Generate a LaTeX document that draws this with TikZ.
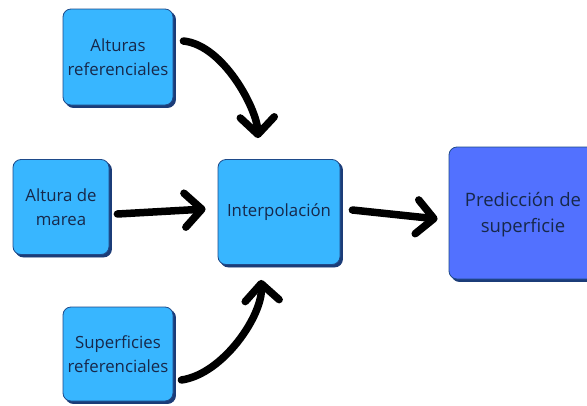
\documentclass[tikz,border=0pt]{standalone}
\usepackage{fontspec}
\setmainfont{Open Sans}
\usetikzlibrary{arrows.meta,calc}
\definecolor{boxblue}{HTML}{38B6FF}
\definecolor{predblue}{HTML}{5271FF}
\definecolor{edgeblue}{HTML}{1E4A8A}
\definecolor{shadeblue}{HTML}{1B3C78}
\definecolor{txtblue}{HTML}{17284A}
\begin{document}
\begin{tikzpicture}[x=1pt,y=-1pt,
  boxstyle/.style={draw=edgeblue, line width=0.8pt, fill=boxblue, rounded corners=8pt,
    align=center, text=txtblue, inner sep=0pt,
    font=\fontsize{16.8}{24}\selectfont},
  shadowed/.style={preaction={fill=shadeblue, draw=shadeblue, transform canvas={shift={(2.5pt,-2.5pt)}}}},
  predstyle/.style={boxstyle, fill=predblue, font=\fontsize{18.5}{26}\selectfont},
  flow/.style={line width=7.5pt, line cap=round, line join=round,
    -{Straight Barb[length=17pt, width=34pt, round]}}
]
\useasboundingbox (0,0) rectangle (587,405);
\fill[white] (0,0) rectangle (587,405);

\node[boxstyle, shadowed, minimum width=110pt, minimum height=96pt] (alt) at (118,57) {Alturas\\referenciales};
\node[boxstyle, shadowed, minimum width=96pt, minimum height=95pt] (mar) at (61,207) {Altura de\\marea};
\node[boxstyle, shadowed, minimum width=122pt, minimum height=105pt] (int) at (279,212) {Interpolación};
\node[predstyle, shadowed, minimum width=160pt, minimum height=132pt] (pred) at (529,213) {};
\node[boxstyle, shadowed, minimum width=110pt, minimum height=94pt] (sup) at (118,354) {Superficies\\referenciales};
\node[text=txtblue, font=\fontsize{18.5}{26}\selectfont, align=center] (predtxt) at (523,215) {Predicción de\\superficie};

\draw[flow] ($(alt.east)+(10,-16)$) .. controls ($(alt.east)+(50,-12)$) and ($(int.north)+(-22,-50)$) .. ($(int.north)+(-21,-21)$);
\draw[flow] ($(mar.east)+(8,7)$) -- ($(int.west)+(-12,-3)$);
\draw[flow] ($(sup.east)+(8,26)$) .. controls ($(sup.east)+(50,20)$) and ($(int.south)+(-16,50)$) .. ($(int.south)+(-18,15)$);
\draw[flow] ($(int.east)+(12,-2)$) -- ($(pred.west)+(-11,6)$);
\end{tikzpicture}
\end{document}
